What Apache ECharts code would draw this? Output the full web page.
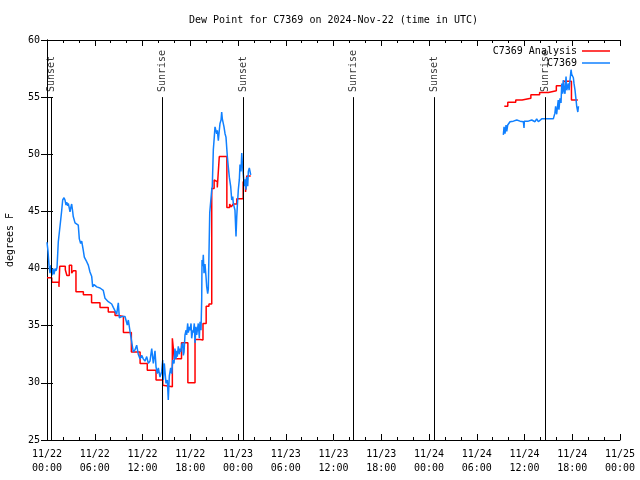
<!DOCTYPE html>
<html><head><meta charset="utf-8">
<script src="https://cdn.jsdelivr.net/npm/echarts@6/dist/echarts.min.js"></script>
<style>html,body{margin:0;padding:0;background:#fff}#c{width:640px;height:480px}</style>
</head><body><div id="c"></div>
<script>
const titleText = 'Dew Point for C7369 on 2024-Nov-22 (time in UTC)';
const yAxisName = 'degrees F';
const seriesNames = ['C7369 Analysis', 'C7369'];
const eventHours = [0.57, 14.5, 24.63, 38.45, 48.63, 62.58];
const eventNames = ['Sunset', 'Sunrise', 'Sunset', 'Sunrise', 'Sunset', 'Sunrise'];

// Analysis (hours since 11/22 00:00 UTC), step values
const analysisHoursA = [0.0, 0.6, 1.5, 1.6, 2.3, 2.5, 2.8, 3.1, 3.3, 3.64, 4.57, 5.6, 6.66, 7.7, 8.55, 8.95, 9.6, 10.6, 11.7, 12.6, 13.7, 14.55, 14.8, 15.75, 16.0, 16.9, 17.7, 18.6, 19.25, 19.6, 20.0, 20.35, 20.7, 21.0, 21.25, 21.4, 21.65, 22.6, 22.95, 23.15, 23.4, 23.85, 24.65, 24.95, 25.1, 25.6];
const analysisValuesA = [39.2, 38.8, 38.4, 40.2, 39.9, 39.4, 40.3, 39.6, 39.8, 37.97, 37.7, 37.0, 36.6, 36.2, 35.9, 35.8, 34.4, 32.7, 31.7, 31.1, 30.25, 29.8, 29.66, 33.9, 32.1, 33.5, 30.0, 33.8, 33.75, 35.2, 36.7, 36.9, 47.0, 47.75, 47.6, 47.1, 49.8, 45.35, 45.65, 45.4, 45.65, 46.1, 47.6, 46.7, 48.1, 48.1];
const analysisHoursB = [57.46, 57.9, 58.9, 59.7, 60.8, 61.9, 63.0, 64.0, 64.9, 65.9, 66.7];
const analysisValuesB = [54.2, 54.55, 54.75, 54.9, 55.2, 55.4, 55.55, 56.0, 56.4, 54.75, 54.75];

// Observations
const obsHoursA = [0.00,0.13,0.25,0.38,0.50,0.63,0.75,0.88,1.01,1.13,1.26,1.42,1.55,1.72,1.85,1.97,2.14,2.26,2.39,2.48,2.60,2.68,2.89,2.98,3.10,3.23,3.30,3.52,3.73,3.93,4.06,4.23,4.36,4.56,4.69,4.99,5.19,5.40,5.62,5.74,5.91,6.03,6.25,6.45,6.66,6.87,7.07,7.29,7.50,7.70,7.92,8.13,8.33,8.55,8.75,8.96,9.09,9.39,9.59,9.80,9.93,10.09,10.22,10.43,10.64,10.84,11.06,11.27,11.47,11.69,11.90,12.10,12.31,12.53,12.73,12.94,13.16,13.36,13.57,13.70,13.86,13.99,14.20,14.41,14.54,14.61,14.74,14.95,15.12,15.24,15.37,15.54,15.67,15.80,15.96,16.08,16.21,16.30,16.37,16.50,16.63,16.71,16.80,16.93,17.05,17.13,17.22,17.34,17.47,17.55,17.68,17.76,17.88,17.97,18.10,18.18,18.31,18.38,18.51,18.60,18.72,18.81,19.01,19.14,19.23,19.35,19.44,19.48,19.57,19.64,19.73,19.85,19.98,20.07,20.19,20.27,20.40,20.45,20.61,20.70,20.77,20.90,21.02,21.11,21.24,21.32,21.40,21.53,21.65,21.74,21.87,21.95,22.03,22.15,22.24,22.37,22.49,22.66,22.78,22.91,23.00,23.08,23.21,23.34,23.41,23.50,23.62,23.75,23.84,23.91,24.04,24.17,24.25,24.38,24.47,24.54,24.67,24.79,24.88,25.01,25.09,25.22,25.30,25.42,25.51,25.60];
const obsValuesA = [42.3,41.5,40.3,39.6,40.3,39.4,40.0,39.5,40.0,39.8,40.1,42.35,42.5,44.25,45.1,46.0,46.2,46.0,45.55,45.8,45.5,45.7,44.97,45.3,45.65,44.97,44.55,44.0,43.96,43.8,42.6,42.2,42.4,41.6,41.0,40.6,40.3,39.7,39.3,38.4,38.6,38.5,38.4,38.4,38.3,38.27,38.1,37.4,37.25,37.1,36.96,36.9,36.6,36.3,36.0,37.0,35.7,35.8,35.85,35.8,35.9,35.06,35.5,34.5,33.6,32.7,32.9,33.3,32.5,32.1,32.4,32.1,31.9,32.3,31.7,31.9,33.0,31.7,32.8,31.4,30.8,31.3,30.5,31.0,32.0,30.25,31.7,29.96,30.25,28.5,30.6,31.3,30.8,32.0,31.7,33.0,32.1,32.8,32.3,33.2,32.5,33.0,32.7,33.3,33.5,32.4,32.7,34.2,34.6,34.2,35.2,34.4,34.9,34.6,35.2,33.9,34.6,34.4,35.2,33.5,34.9,34.2,35.2,33.9,35.35,34.6,37.25,40.75,40.2,41.2,39.6,40.4,39.3,38.4,37.8,38.2,38.2,44.9,44.9,46.9,47.2,50.4,51.5,52.4,52.56,51.8,52.1,51.2,52.1,52.7,53.0,53.7,53.1,53.2,52.4,51.8,51.5,49.8,48.9,48.0,47.9,47.2,46.0,46.3,45.7,45.7,45.1,42.8,44.5,45.4,46.9,47.8,49.1,48.5,50.1,49.3,48.2,47.2,47.8,46.9,48.0,47.2,48.5,48.8,48.5,48.2];
const obsHoursB = [57.34,57.43,57.55,57.68,57.77,57.89,57.97,58.18,58.60,59.03,59.44,59.86,59.94,59.98,60.48,60.91,61.11,61.32,61.53,61.74,62.16,63.00,63.62,63.82,63.91,64.04,64.24,64.33,64.46,64.59,64.68,64.80,64.88,65.01,65.09,65.22,65.31,65.43,65.51,65.60,65.72,65.85,65.93,66.01,66.14,66.22,66.35,66.44,66.56,66.70,66.78];
const obsValuesB = [51.7,52.4,51.8,52.56,52.0,52.56,52.7,52.85,52.9,53.0,52.9,52.85,52.3,52.9,52.9,53.0,53.1,52.85,53.1,52.85,53.1,53.1,53.1,53.6,54.2,53.5,54.75,53.9,54.9,54.5,56.2,55.3,56.5,55.5,55.3,56.8,55.6,55.7,56.2,55.6,56.5,57.4,57.0,57.1,56.7,56.2,55.6,55.0,54.2,53.7,54.2];

const FONT = 'DejaVu Sans Mono';
const RED = '#ff0000', BLUE = '#1080ff';
const eventLineTop = 55.0;   // event lines stop below their labels
const eventLabelBase = 55.45;
const pairs = (hs, vs) => hs.map((h, i) => [h, vs[i]]);

function xLabel(v) {
  const day = 22 + Math.floor(v / 24);
  const hr = v % 24;
  return '11/' + day + '\n' + (hr < 10 ? '0' : '') + hr + ':00';
}

const chart = echarts.init(document.getElementById('c'));
const baseX = {
  type: 'value', min: 0, max: 72, interval: 6,
  axisLine: {show: true, lineStyle: {color: '#000', width: 1}},
  axisTick: {show: true, inside: true, length: 6, lineStyle: {color: '#000'}},
  minorTick: {show: true, splitNumber: 3, length: 3, lineStyle: {color: '#000'}},
  splitLine: {show: false}
};
const baseY = {
  type: 'value', min: 25, max: 60, interval: 5,
  axisLine: {show: true, lineStyle: {color: '#000', width: 1}},
  axisTick: {show: true, inside: true, length: 6, lineStyle: {color: '#000'}},
  splitLine: {show: false}
};
const lineSeries = (name, data, color, extra) => Object.assign({
  name: name, type: 'line', data: data, showSymbol: false, symbol: 'none',
  color: color, lineStyle: {color: color, width: 1.5}, emphasis: {disabled: true}
}, extra || {});

chart.setOption({
  animation: false,
  backgroundColor: '#fff',
  title: {text: titleText, left: 184, top: 10,
    textStyle: {fontFamily: FONT, fontSize: 10, fontWeight: 'normal', color: '#000'}},
  legend: [
    {data: [seriesNames[0]], right: 30, top: 46, padding: 0, align: 'right', icon: 'rect', itemWidth: 28, itemHeight: 1.5,
      textStyle: {fontFamily: FONT, fontSize: 10, color: '#000'}, selectedMode: false},
    {data: [seriesNames[1]], right: 30, top: 58, padding: 0, align: 'right', icon: 'rect', itemWidth: 28, itemHeight: 1.5,
      textStyle: {fontFamily: FONT, fontSize: 10, color: '#000'}, selectedMode: false}
  ],
  grid: {left: 47, right: 20, top: 40, bottom: 40, containLabel: false, outerBoundsMode: 'none'},
  xAxis: [
    Object.assign({}, baseX, {position: 'bottom',
      axisLabel: {formatter: xLabel, fontFamily: FONT, fontSize: 10, color: '#000', lineHeight: 14, margin: 7}}),
    Object.assign({}, baseX, {position: 'top', axisLabel: {show: false}})
  ],
  yAxis: [
    Object.assign({}, baseY, {position: 'left', name: yAxisName, nameLocation: 'middle', nameRotate: 90, nameGap: 32,
      nameTextStyle: {fontFamily: FONT, fontSize: 10, color: '#000'},
      axisLabel: {fontFamily: FONT, fontSize: 10, color: '#000', margin: 7}}),
    Object.assign({}, baseY, {position: 'right', axisLabel: {show: false}})
  ],
  series: [
    lineSeries(seriesNames[0], pairs(analysisHoursA, analysisValuesA), RED, {step: 'end',
      markLine: {silent: true, symbol: ['none', 'none'], animation: false,
        lineStyle: {color: '#000', width: 1, type: 'solid'},
        label: {show: false}, emphasis: {disabled: true},
        data: eventHours.map(h => [{coord: [h, 25]}, {coord: [h, eventLineTop]}])}}),
    lineSeries(seriesNames[0], pairs(analysisHoursB, analysisValuesB), RED, {step: 'end'}),
    lineSeries(seriesNames[1], pairs(obsHoursA, obsValuesA), BLUE),
    lineSeries(seriesNames[1], pairs(obsHoursB, obsValuesB), BLUE),
    {type: 'scatter', name: 'events', symbolSize: 0, silent: true,
      data: eventHours.map((h, i) => ({value: [h, eventLabelBase], name: eventNames[i]})),
      label: {show: true, position: 'inside', rotate: 90, align: 'left', verticalAlign: 'middle',
        formatter: p => p.name, fontFamily: FONT, fontSize: 10, color: '#000'}}
  ]
});
</script></body></html>
